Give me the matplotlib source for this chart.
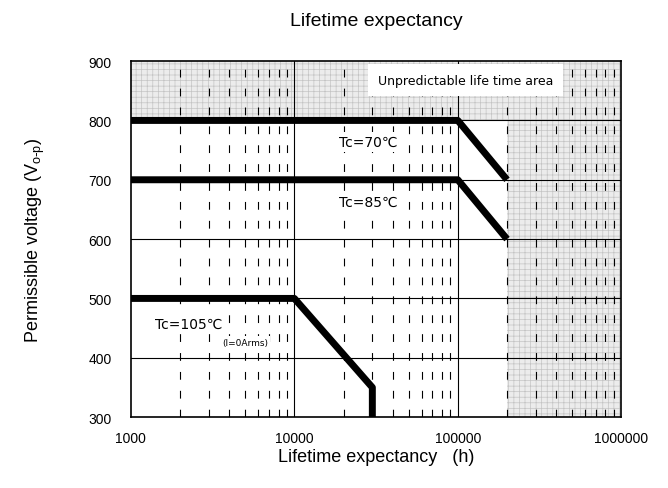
import numpy as np
import matplotlib
matplotlib.use('Agg')
from matplotlib import pyplot as plt
from matplotlib.ticker import FixedLocator, NullFormatter, NullLocator

plt.rcParams['font.family'] = ['Liberation Sans', 'DejaVu Sans']
plt.rcParams['hatch.linewidth'] = 0.5

# Datos de las curvas
x_70 = [1000, 100000, 200000]
y_70 = [800, 800, 700]
x_85 = [1000, 100000, 200000]
y_85 = [700, 700, 600]
x_105 = [1000, 10000, 30000, 30000]
y_105 = [500, 500, 350, 300]

x_ticks = [1000, 10000, 100000, 1000000]
x_tick_labels = ['1000', '10000', '100000', '1000000']
y_ticks = [300, 400, 500, 600, 700, 800, 900]

# Zonas sin prediccion
band_y = (800, 900)
right_x = (200000, 1000000)

fig = plt.figure(figsize=(6.68, 4.89), dpi=100)
ax = fig.add_axes([0.196, 0.145, 0.734, 0.728])
ax.set_xscale('log')
ax.set_xlim(1000, 1000000)
ax.set_ylim(300, 900)

# Areas sombreadas
ax.axhspan(band_y[0], band_y[1], facecolor='#ececec', edgecolor='#c4c4c4',
           hatch='+++', linewidth=0, zorder=0)
ax.fill_between(right_x, 300, 800, facecolor='#ececec', edgecolor='#c4c4c4',
                hatch='+++', linewidth=0, zorder=0)

# Rejilla
for yv in y_ticks[1:-1]:
    ax.axhline(yv, color='black', linewidth=0.8, zorder=1)
for d in [10000, 100000]:
    ax.axvline(d, color='black', linewidth=0.8, zorder=1)
for d in [1000, 10000, 100000]:
    for m in range(2, 10):
        ax.axvline(d * m, color='black', linewidth=0.8, linestyle=(0, (7, 10)), zorder=1)

# Curvas
for xs, ys in [(x_70, y_70), (x_85, y_85), (x_105, y_105)]:
    ax.plot(xs, ys, color='black', linewidth=5, solid_capstyle='butt', zorder=3)

caja = dict(facecolor='white', edgecolor='none', pad=2)
ax.text(112000, 868, 'Unpredictable life time area', fontsize=9,
        ha='center', va='center', family=['DejaVu Sans'],
        bbox=dict(facecolor='white', edgecolor='none', pad=7), zorder=4)
ax.text(28400, 764, 'Tc=70℃', fontsize=10, ha='center', va='center',
        family=['DejaVu Sans'], bbox=caja, zorder=4)
ax.text(28400, 662, 'Tc=85℃', fontsize=10, ha='center', va='center',
        family=['DejaVu Sans'], bbox=caja, zorder=4)
ax.text(2250, 457, 'Tc=105℃', fontsize=10, ha='center', va='center',
        family=['DejaVu Sans'], bbox=caja, zorder=4)
ax.text(5000, 426, '(I=0Arms)', fontsize=6.5, ha='center', va='center',
        family=['DejaVu Sans'], bbox=dict(facecolor='white', edgecolor='none', pad=1), zorder=4)

ax.xaxis.set_major_locator(FixedLocator(x_ticks))
ax.set_xticklabels(x_tick_labels)
ax.xaxis.set_minor_locator(NullLocator())
ax.xaxis.set_minor_formatter(NullFormatter())
ax.set_yticks(y_ticks)
ax.tick_params(axis='both', length=0, labelsize=10, pad=14)
ax.tick_params(axis='x', pad=10)
for s in ax.spines.values():
    s.set_linewidth(1.2)

ax.set_title('Lifetime expectancy', fontsize=14, pad=26)
ax.set_xlabel('Lifetime expectancy   (h)', fontsize=13, labelpad=2)
ax.set_ylabel('Permissible voltage (V$_{\\mathregular{o\\text{-}p}}$)', fontsize=13, labelpad=30)

fig.savefig('out.png', dpi=100)
